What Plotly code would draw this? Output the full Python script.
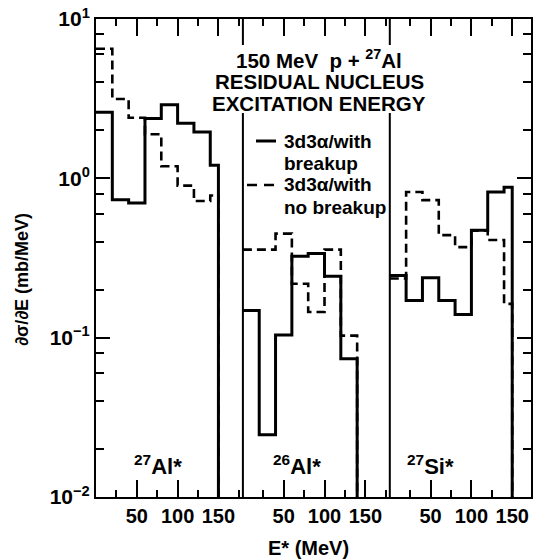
import plotly.graph_objects as go

# ---------------- data ----------------
edges_al27 = [0, 20, 40, 60, 80, 100, 120, 140, 150]
with_breakup_al27 = [2.6, 0.735, 0.70, 2.37, 2.9, 2.22, 1.95, 1.21]
no_breakup_al27 = [6.5, 3.15, 2.4, 1.89, 1.19, 0.90, 0.72, 0.78]

edges_al26 = [0, 20, 40, 60, 80, 100, 120, 140]
with_breakup_al26 = [0.148, 0.0246, 0.104, 0.324, 0.337, 0.243, 0.0738]
no_breakup_al26 = [0.357, 0.357, 0.45, 0.218, 0.145, 0.357, 0.103]

edges_si27 = [0, 20, 40, 60, 80, 100, 120, 140, 150]
with_breakup_si27 = [0.246, 0.171, 0.238, 0.171, 0.140, 0.472, 0.82, 0.88]
no_breakup_si27 = [0.235, 0.82, 0.73, 0.44, 0.37, 0.47, 0.41, 0.163]

panel_labels = ["<sup>27</sup>Al*", "<sup>26</sup>Al*", "<sup>27</sup>Si*"]
title_lines = ["150 MeV  p + <sup>27</sup>Al", "RESIDUAL NUCLEUS", "EXCITATION ENERGY"]
legend_solid = ["3d3\u03b1/with", "breakup"]
legend_dashed = ["3d3\u03b1/with", "no breakup"]

x_tickvals = [50, 100, 150]
x_ticktext = ["50", "100", "150"]
x_minorvals = [25, 75, 125, 175]
y_tickvals = [0.01, 0.1, 1, 10]
y_ticktext = ["10<sup>\u22122</sup>", "10<sup>\u22121</sup>", "10<sup>0</sup>", "10<sup>1</sup>"]
y_minorvals = [m * d for d in (0.01, 0.1, 1) for m in (2, 4, 6, 8)]

# ---------------- geometry ----------------
W, H = 533, 559
ML, MR, MT, MB = 96, 2, 19, 62
PW = W - ML - MR
PH = H - MT - MB
panel_px = 146.9           # pixels per 180 MeV panel
d1 = panel_px / PW
d2 = 2 * panel_px / PW
x3max = 180 * (1 - d2) / d1
YLOG = [-2, 1]
floor_val = 10 ** (YLOG[0] - 1)

def px(x):
    return (x - ML) / PW

def py(y):
    return (MT + PH - y) / PH

FONT = "Liberation Sans, Arial, sans-serif"
LW_SOLID = 3
LW_DASH = 2.6
DASH = "9px,5px"

def steps(edges, vals):
    xs = list(edges[:-1]) + [edges[-1], edges[-1]]
    ys = list(vals) + [vals[-1], floor_val]
    return xs, ys

fig = go.Figure()
panels = [
    (edges_al27, with_breakup_al27, no_breakup_al27, "x", "y"),
    (edges_al26, with_breakup_al26, no_breakup_al26, "x2", "y"),
    (edges_si27, with_breakup_si27, no_breakup_si27, "x3", "y2"),
]
for edges, solid, dashed, xa, ya in panels:
    xs, ys = steps(edges, dashed)
    fig.add_trace(go.Scatter(x=xs, y=ys, mode="lines", line_shape="hv",
                             line=dict(color="black", width=LW_DASH, dash=DASH),
                             xaxis=xa, yaxis=ya, showlegend=False, hoverinfo="skip"))
    xs, ys = steps(edges, solid)
    fig.add_trace(go.Scatter(x=xs, y=ys, mode="lines", line_shape="hv",
                             line=dict(color="black", width=LW_SOLID),
                             xaxis=xa, yaxis=ya, showlegend=False, hoverinfo="skip"))

xtickfont = dict(family=FONT, size=20, color="black", weight="bold")
ytickfont = dict(family=FONT, size=21, color="black", weight="bold")

def xaxis(domain, rng):
    return dict(domain=domain, range=rng, anchor="y", showgrid=False, zeroline=False,
                showline=True, linecolor="black", linewidth=2, mirror="ticks",
                ticks="inside", ticklen=17, tickwidth=1.5, tickcolor="black",
                tickvals=x_tickvals, ticktext=x_ticktext, tickfont=xtickfont,
                minor=dict(tickvals=x_minorvals, ticks="inside", ticklen=7,
                           tickwidth=1.5, tickcolor="black", showgrid=False),
                fixedrange=True)

layout = dict(
    width=W, height=H, margin=dict(l=ML, r=MR, t=MT, b=MB, pad=0),
    paper_bgcolor="white", plot_bgcolor="white", showlegend=False,
    xaxis=xaxis([0, d1], [0, 180]),
    xaxis2=xaxis([d1, d2], [0, 180]),
    xaxis3=xaxis([d2, 1], [0, x3max]),
    yaxis=dict(type="log", range=YLOG, anchor="x", domain=[0, 1],
               showgrid=False, zeroline=False, showline=True, linecolor="black",
               linewidth=2, ticks="inside", ticklen=14, tickwidth=1.5, tickcolor="black",
               tickvals=y_tickvals, ticktext=y_ticktext, tickfont=ytickfont,
               minor=dict(tickvals=y_minorvals, ticks="inside", ticklen=8,
                          tickwidth=1.5, tickcolor="black", showgrid=False),
               fixedrange=True),
    yaxis2=dict(type="log", range=YLOG, anchor="x3", overlaying="y", side="right",
                showgrid=False, zeroline=False, showline=True, linecolor="black",
                linewidth=2, ticks="inside", ticklen=14, tickwidth=1.5, tickcolor="black",
                tickvals=y_tickvals, showticklabels=False,
                minor=dict(tickvals=y_minorvals, ticks="inside", ticklen=8,
                           tickwidth=1.5, tickcolor="black", showgrid=False),
                fixedrange=True),
)
fig.update_layout(**layout)

shapes = []
# panel dividers (interrupted by the title block)
for d in (d1, d2):
    shapes.append(dict(type="line", xref="paper", yref="paper", x0=d, x1=d,
                       y0=py(45), y1=1, line=dict(color="black", width=2)))
    shapes.append(dict(type="line", xref="paper", yref="paper", x0=d, x1=d,
                       y0=0, y1=py(113), line=dict(color="black", width=2)))
# legend samples
shapes.append(dict(type="line", xref="paper", yref="paper", x0=px(256), x1=px(276),
                   y0=py(141), y1=py(141), line=dict(color="black", width=LW_SOLID)))
shapes.append(dict(type="line", xref="paper", yref="paper", x0=px(247), x1=px(274),
                   y0=py(185), y1=py(185), line=dict(color="black", width=LW_DASH, dash="10px,7px")))
fig.update_layout(shapes=shapes)

ann = []
tfont = dict(family=FONT, size=20.5, color="black", weight="bold")
for text, y in zip(title_lines, (58.5, 81.5, 103)):
    ann.append(dict(text=text, xref="paper", yref="paper", x=px(319), y=py(y),
                    xanchor="center", yanchor="middle", showarrow=False, font=tfont,
                    borderpad=0))
lfont = dict(family=FONT, size=19, color="black", weight="bold")
for text, y in zip(legend_solid + legend_dashed, (141, 163, 185, 207)):
    ann.append(dict(text=text, xref="paper", yref="paper", x=px(283), y=py(y),
                    xanchor="left", yanchor="middle", showarrow=False, font=lfont,
                    borderpad=0))
pfont = dict(family=FONT, size=22, color="black", weight="bold")
for text, x in zip(panel_labels, (158, 297, 430)):
    ann.append(dict(text=text, xref="paper", yref="paper", x=px(x), y=py(465),
                    xanchor="center", yanchor="middle", showarrow=False, font=pfont))
ann.append(dict(text="\u2202\u03c3/\u2202E (mb/MeV)", xref="paper", yref="paper",
                x=px(22), y=py(280), textangle=-90, xanchor="center", yanchor="middle",
                showarrow=False, font=dict(family=FONT, size=18, color="black", weight="bold")))
ann.append(dict(text="E* (MeV)", xref="paper", yref="paper", x=px(308), y=py(548),
                xanchor="center", yanchor="middle", showarrow=False,
                font=dict(family=FONT, size=20, color="black", weight="bold")))
fig.update_layout(annotations=ann)

fig.write_html("out.html")
